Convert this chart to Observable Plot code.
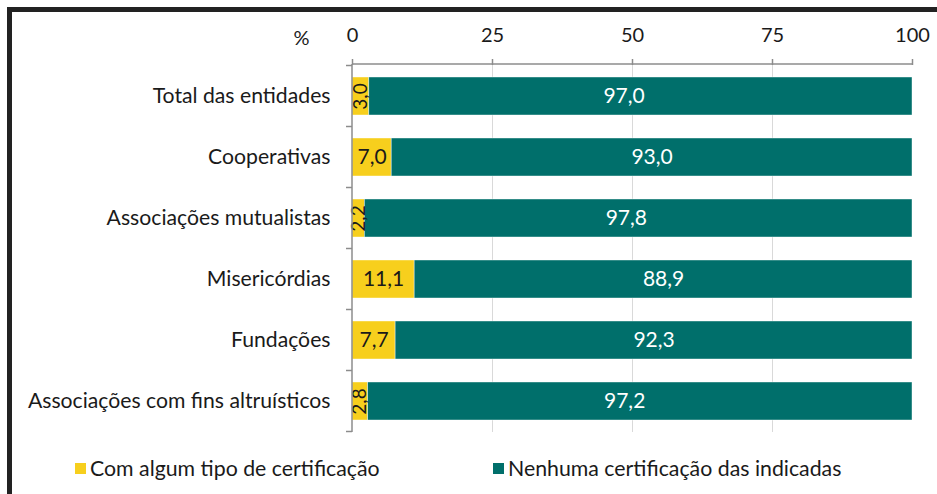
<!DOCTYPE html>
<html>
<head>
<meta charset="utf-8">
<script src="https://cdn.jsdelivr.net/npm/d3@7"></script>
<script src="https://cdn.jsdelivr.net/npm/@observablehq/plot@0.6"></script>
<style>
  html, body { margin: 0; padding: 0; background: #fff; }
  #wrap { position: relative; width: 937px; height: 494px; overflow: hidden; font-family: Lato, "Open Sans", sans-serif; }
  #frame { position: absolute; left: 7px; top: 7px; width: 960px; height: 520px; border-top: 5px solid #222; border-left: 5px solid #222; box-sizing: border-box; }
  #chart { position: absolute; left: 0; top: 0; }
  #legend { position: absolute; left: 0; top: 455px; width: 937px; height: 26px; font-size: 21.3px; color: #1a1a1a; }
  .item { position: absolute; top: 0; display: flex; align-items: center; white-space: nowrap; }
  .sw { width: 11px; height: 11px; margin-right: 4px; display: inline-block; }
</style>
</head>
<body>
<div id="wrap">
  <div id="frame"></div>
  <div id="chart"></div>
  <div id="legend"></div>
</div>
<script>
const categories = [
  "Total das entidades",
  "Cooperativas",
  "Associações mutualistas",
  "Misericórdias",
  "Fundações",
  "Associações com fins altruísticos"
];
const seriesNames = ["Com algum tipo de certificação", "Nenhuma certificação das indicadas"];
const withCert = [3.0, 7.0, 2.2, 11.1, 7.7, 2.8];
const noCert = [97.0, 93.0, 97.8, 88.9, 92.3, 97.2];
const xTicks = [0, 25, 50, 75, 100];
const colors = ["#F7CF1D", "#006F6B"];

const data = [];
categories.forEach((c, i) => {
  data.push({category: c, series: seriesNames[0], value: withCert[i]});
  data.push({category: c, series: seriesNames[1], value: noCert[i]});
});
const fmt = v => v.toFixed(1).replace(".", ",");
const font = "Lato, 'Open Sans', sans-serif";

function axesMark(...args) {
  const scales = args.find(a => a && typeof a === "object" && typeof a.x === "function" && typeof a.y === "function");
  const dims = args.find(a => a && typeof a === "object" && "marginLeft" in a && "width" in a);
  const g = d3.create("svg:g").attr("stroke", "#8c8c8c").attr("stroke-width", 1.5).attr("fill", "none");
  const x = scales.x, y = scales.y;
  const bw = y.bandwidth ? y.bandwidth() : 0;
  const step = y.step ? y.step() : bw;
  const x0 = x(0), x1 = x(100);
  const top = dims.marginTop, bottom = dims.height - dims.marginBottom;
  g.append("line").attr("x1", x0).attr("x2", x1).attr("y1", top).attr("y2", top);
  g.append("line").attr("x1", x0).attr("x2", x0).attr("y1", top).attr("y2", bottom);
  const bounds = categories.map(c => y(c) - (step - bw) / 2);
  bounds.push(y(categories[categories.length - 1]) + bw + (step - bw) / 2);
  bounds.forEach(b => g.append("line").attr("x1", x0 - 6).attr("x2", x0).attr("y1", b).attr("y2", b));
  return g.node();
}

const plot = Plot.plot({
  width: 937,
  height: 445,
  marginTop: 64,
  marginBottom: 13,
  marginLeft: 352,
  marginRight: 25,
  style: {fontFamily: font, fontSize: "21px", color: "#1a1a1a", background: "transparent"},
  x: {domain: [0, 100], ticks: xTicks, axis: null, label: null},
  y: {domain: categories, paddingInner: 0.38, paddingOuter: 0.19, axis: null, label: null},
  color: {domain: seriesNames, range: colors},
  marks: [
    Plot.gridX(xTicks.filter(t => t > 0 && t < 100), {stroke: "#d9d9d9", strokeOpacity: 1, strokeWidth: 1}),
    Plot.barX(data, {x: "value", y: "category", fill: "series", stroke: "#ffffff", strokeWidth: 0.6, strokeOpacity: 0.7}),
    Plot.text(data, Plot.stackX({
      filter: d => !(d.series === seriesNames[0] && d.value < 5),
      x: "value", y: "category", z: "series",
      text: d => fmt(d.value),
      fill: d => d.series === seriesNames[0] ? "#1a1a1a" : "#ffffff",
      fontSize: 21
    })),
    Plot.text(data, Plot.stackX({
      filter: d => d.series === seriesNames[0] && d.value < 5,
      x: "value", y: "category", z: "series",
      text: d => fmt(d.value),
      fill: "#1a1a1a",
      rotate: -90,
      fontSize: 19
    })),
    axesMark,
    Plot.axisX(xTicks, {anchor: "top", label: null, tickSize: 6, tickPadding: 17, stroke: "#8c8c8c", strokeWidth: 1.5, fontSize: 20, fill: "#1a1a1a"}),
    Plot.axisY(categories, {anchor: "left", label: null, tickSize: 0, tickPadding: 22, fontSize: 21.2, fill: "#1a1a1a"}),
    Plot.text(["%"], {frameAnchor: "top-left", textAnchor: "middle", lineAnchor: "middle", dx: -51, dy: -26, fontSize: 20, fill: "#1a1a1a"})
  ]
});
document.getElementById("chart").appendChild(plot);

const legend = document.getElementById("legend");
const legendLeft = [75, 493];
seriesNames.forEach((s, i) => {
  const item = document.createElement("div");
  item.className = "item";
  item.style.left = legendLeft[i] + "px";
  item.innerHTML = `<span class="sw" style="background:${colors[i]}"></span><span>${s}</span>`;
  legend.appendChild(item);
});
</script>
</body>
</html>
